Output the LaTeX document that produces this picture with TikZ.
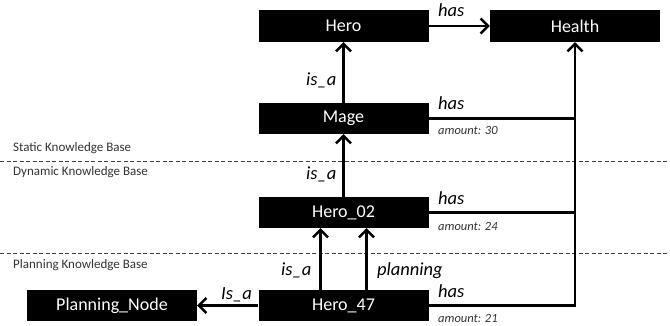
\documentclass[tikz,border=0pt]{standalone}
\usepackage{fontspec}
\setmainfont{Carlito}
\usetikzlibrary{arrows.meta}
\tikzset{
  entity/.style={fill=black, text=white, minimum width=170pt, minimum height=31pt,
    inner sep=0pt, font=\fontsize{18}{21}\selectfont},
  rel/.style={anchor=base west, inner sep=0pt, font=\fontsize{18.5}{21}\selectfont\itshape},
  attr/.style={anchor=base west, inner sep=0pt, text=black!80, font=\fontsize{12.5}{14}\selectfont\itshape},
  layer/.style={anchor=base west, inner sep=0pt, text=black!80, font=\fontsize{13}{15}\selectfont},
  conn/.style={line width=2.5pt},
  arr/.style={conn, -{Straight Barb[length=7.5pt,width=15pt]}},
  divider/.style={line width=0.8pt, black!75, dash pattern=on 4pt off 2.5pt}
}
\begin{document}
\begin{tikzpicture}[x=1pt, y=-1pt]
\useasboundingbox (0,0) rectangle (670,326);

% knowledge base dividers
\draw[divider] (0,161) -- (670,161);
\draw[divider] (0,253) -- (670,253);
\node[layer] (lstatic)   at (13,152) {Static Knowledge Base};
\node[layer] (ldynamic)  at (13,176) {Dynamic Knowledge Base};
\node[layer] (lplanning) at (13,269) {Planning Knowledge Base};

% entities
\node[entity, minimum height=32pt] (hero)   at (343.5,26)  {Hero};
\node[entity, minimum height=32pt] (health) at (575,26)    {Health};
\node[entity] (mage)   at (343.5,118.5) {Mage};
\node[entity] (hero02) at (343.5,212.5) {Hero\_02};
\node[entity] (hero47) at (343.5,305.5) {Hero\_47};
\node[entity] (pnode)  at (112,305.5)   {Planning\_Node};

% relations
\draw[arr] (hero) -- (health);
\draw[arr] (mage) -- (hero);
\draw[arr] (hero02) -- (mage);
\draw[arr] ([xshift=-23pt]hero47.north) -- ([xshift=-23pt]hero02.south);
\draw[arr] ([xshift=23pt]hero47.north) -- ([xshift=23pt]hero02.south);
\draw[arr] (hero47) -- (pnode);
\draw[arr] (hero47.east) -| (health.south);
\draw[conn] (mage.east) -- (mage.east -| health.south);
\draw[conn] (hero02.east) -- (hero02.east -| health.south);

% relation labels
\node[rel] (lhas0) at (438,17)  {has};
\node[rel] (lisa1) at (306,86)  {is\_a};
\node[rel] (lhas1) at (438,110) {has};
\node[attr] (amt1) at (438,135) {amount: 30};
\node[rel] (lisa2) at (306,180) {is\_a};
\node[rel] (lhas2) at (438,205) {has};
\node[attr] (amt2) at (438,230) {amount: 24};
\node[rel] (lisa3) at (281,275) {is\_a};
\node[rel] (lplan) at (377,275) {planning};
\node[rel] (lisa4) at (221,299) {Is\_a};
\node[rel] (lhas3) at (438,298) {has};
\node[attr] (amt3) at (438,322) {amount: 21};
\end{tikzpicture}
\end{document}
